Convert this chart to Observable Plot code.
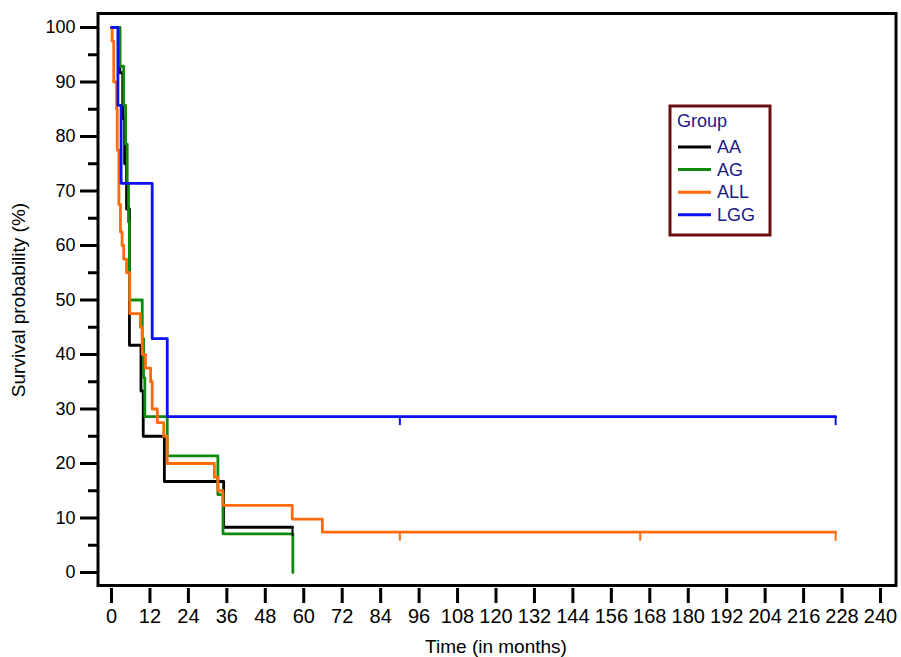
<!DOCTYPE html>
<html><head><meta charset="utf-8">
<script src="https://cdn.jsdelivr.net/npm/d3@7"></script>
<script src="https://cdn.jsdelivr.net/npm/@observablehq/plot@0.6"></script>
<style>
body{margin:0;background:#fff}
#chart{position:relative;width:901px;height:657px}
</style>
</head><body><div id="chart"></div>
<script>
// ---- data ----
const groups = ["AA", "AG", "ALL", "LGG"];
const colors = ["#000000", "#0b8a0b", "#ff6a0a", "#0a10f0"];

const aaTime = [0, 2.6, 3.5, 4.1, 4.7, 5.6, 9.2, 9.9, 16.5, 35.0, 56.5];
const aaSurv = [100, 91.7, 83.3, 75.0, 66.7, 41.7, 33.3, 25.0, 16.7, 8.3, 8.3];

const agTime = [0, 2.6, 3.8, 4.4, 4.9, 5.3, 5.6, 9.6, 10.0, 10.4, 17.4, 33.2, 34.8, 56.6];
const agSurv = [100, 92.9, 85.7, 78.6, 71.4, 64.3, 50.0, 42.9, 35.7, 28.6, 21.4, 14.3, 7.1, 0];

const allTime = [0, 0.2, 0.7, 1.6, 1.8, 2.3, 2.8, 3.3, 3.8, 4.7, 5.7, 9.0, 9.6, 10.6, 12.2, 12.7, 14.3, 16.3, 17.4, 32.1, 33.2, 34.8, 56.4, 65.8, 226];
const allSurv = [100, 97.5, 90.0, 85.0, 77.5, 67.5, 62.5, 60.0, 57.5, 55.0, 47.5, 45.0, 40.0, 37.5, 35.0, 30.0, 27.5, 25.0, 20.0, 17.5, 15.0, 12.3, 9.8, 7.4, 7.4];

const lggTime = [0, 2.0, 3.0, 12.7, 17.4, 226];
const lggSurv = [100, 85.7, 71.4, 42.9, 28.6, 28.6];

const censorGroup = ["AA", "ALL", "ALL", "ALL", "LGG", "LGG"];
const censorTime = [56.5, 90, 165, 226, 90, 226];
const censorSurv = [8.3, 7.4, 7.4, 7.4, 28.6, 28.6];

const xTicks = [0, 12, 24, 36, 48, 60, 72, 84, 96, 108, 120, 132, 144, 156, 168, 180, 192, 204, 216, 228, 240];
const yTicks = [0, 10, 20, 30, 40, 50, 60, 70, 80, 90, 100];
const yMinorTicks = [5, 15, 25, 35, 45, 55, 65, 75, 85, 95];

const xTitle = "Time (in months)";
const yTitle = "Survival probability (%)";
const legendTitle = "Group";

// ---- build tables ----
const series = {AA: [aaTime, aaSurv], AG: [agTime, agSurv], ALL: [allTime, allSurv], LGG: [lggTime, lggSurv]};
const rows = [];
for (const g of groups) {
  const [ts, ss] = series[g];
  ts.forEach((t, i) => rows.push({group: g, t, s: ss[i]}));
}
const censor = censorTime.map((t, i) => ({group: censorGroup[i], t, s: censorSurv[i]}));

const narrow = "'Liberation Sans Narrow', 'Arial Narrow', 'Liberation Sans', Arial, sans-serif";
const sans = "'Liberation Sans', Arial, sans-serif";

const plot = Plot.plot({
  width: 901,
  height: 657,
  marginLeft: 111,
  marginRight: 21,
  marginTop: 27,
  marginBottom: 85,
  x: {domain: [0, 240]},
  y: {domain: [0, 100]},
  color: {domain: groups, range: colors},
  style: {fontFamily: sans, background: "white", color: "black"},
  marks: [
    Plot.frame({stroke: "black", strokeWidth: 3, insetLeft: -13.5, insetRight: -15.5, insetTop: -14, insetBottom: -13}),
    Plot.axisY(yTicks, {anchor: "left", dx: -14, tickSize: 17, tickPadding: 5, strokeWidth: 3, fontSize: 18, label: null}),
    Plot.axisY(yMinorTicks, {anchor: "left", dx: -14, tickSize: 9, strokeWidth: 3, fill: "none", label: null}),
    Plot.axisX(xTicks, {anchor: "bottom", dy: 16, tickSize: 15, tickPadding: 5, strokeWidth: 3, fontSize: 20, fontFamily: narrow, label: null}),
    Plot.line(rows, {x: "t", y: "s", z: "group", stroke: "group", curve: "step-after", strokeWidth: 2.8}),
    Plot.ruleX(censor, {x: "t", y1: "s", y2: "s", stroke: "group", strokeWidth: 2, insetBottom: -9}),
    Plot.text([xTitle], {frameAnchor: "bottom", dy: 74, lineAnchor: "middle", fontSize: 19, fontFamily: narrow, fill: "black"}),
    Plot.text([yTitle], {frameAnchor: "left", rotate: -90, dx: -93, textAnchor: "middle", lineAnchor: "middle", fontSize: 19, fill: "black"})
  ]
});

// ---- legend inside plot area ----
const svg = d3.select(plot);
const lg = svg.append("g").attr("font-family", sans).attr("font-size", 18).attr("text-anchor", "start");
lg.append("rect").attr("x", 670).attr("y", 106).attr("width", 100).attr("height", 129)
  .attr("fill", "white").attr("stroke", "#6b0d0d").attr("stroke-width", 3);
lg.append("text").attr("x", 677).attr("y", 121).attr("dy", "0.35em").attr("fill", "#1a1a8a").text(legendTitle);
groups.forEach((g, i) => {
  const y = 147 + i * 22.6;
  lg.append("line").attr("x1", 678).attr("x2", 711).attr("y1", y).attr("y2", y)
    .attr("stroke", colors[i]).attr("stroke-width", 3);
  lg.append("text").attr("x", 717).attr("y", y).attr("dy", "0.33em").attr("fill", "#1a1a8a").text(g);
});

document.getElementById("chart").appendChild(plot);
</script>
</body></html>
